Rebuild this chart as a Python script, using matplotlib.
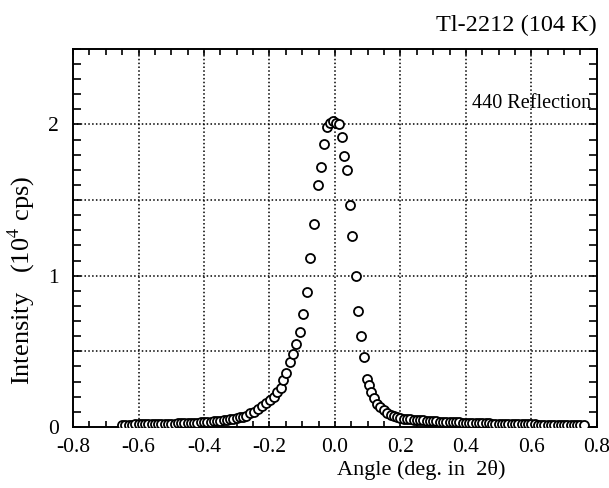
import matplotlib
matplotlib.use("Agg")
import matplotlib.pyplot as plt
from matplotlib.ticker import MultipleLocator, FixedLocator

plt.rcParams['font.family'] = ['Liberation Serif', 'DejaVu Serif']
plt.rcParams['mathtext.fontset'] = 'stix'

# ---- data ----
left_tail_angle = [-0.65, -0.64, -0.63, -0.62, -0.61, -0.60, -0.59, -0.58, -0.57, -0.56,
                   -0.55, -0.54, -0.53, -0.52, -0.51, -0.50, -0.49, -0.48, -0.47, -0.46,
                   -0.45, -0.44, -0.43, -0.42, -0.41, -0.40, -0.39, -0.38, -0.37, -0.36,
                   -0.35, -0.34, -0.33, -0.32, -0.31, -0.30, -0.29, -0.28]
left_tail_int = [0.015, 0.015, 0.016, 0.016, 0.017, 0.017, 0.018, 0.018, 0.019, 0.019,
                 0.020, 0.020, 0.021, 0.021, 0.022, 0.022, 0.023, 0.024, 0.024, 0.025,
                 0.026, 0.027, 0.028, 0.029, 0.030, 0.031, 0.033, 0.035, 0.037, 0.039,
                 0.041, 0.044, 0.047, 0.050, 0.054, 0.058, 0.063, 0.068]

peak_angle = [-0.271, -0.259, -0.247, -0.235, -0.223, -0.210, -0.198, -0.186, -0.177, -0.165,
              -0.159, -0.149, -0.137, -0.128, -0.119, -0.107, -0.098, -0.085, -0.076, -0.064,
              -0.052, -0.043, -0.034, -0.024, -0.015, -0.006, 0.003, 0.012, 0.021, 0.027,
              0.037, 0.046, 0.052, 0.064, 0.070, 0.079, 0.088, 0.098, 0.104, 0.110,
              0.119, 0.128, 0.137]
peak_int = [0.07, 0.09, 0.10, 0.12, 0.14, 0.16, 0.18, 0.20, 0.23, 0.26,
            0.31, 0.36, 0.43, 0.48, 0.55, 0.63, 0.75, 0.89, 1.12, 1.34,
            1.60, 1.72, 1.87, 1.98, 2.01, 2.02, 2.01, 2.00, 1.92, 1.79,
            1.70, 1.47, 1.26, 1.00, 0.77, 0.60, 0.46, 0.32, 0.28, 0.23,
            0.19, 0.15, 0.13]

right_tail_angle = [0.149, 0.16, 0.17, 0.18, 0.19, 0.20, 0.21, 0.22, 0.23, 0.24,
                    0.25, 0.26, 0.27, 0.28, 0.29, 0.30, 0.31, 0.32, 0.33, 0.34,
                    0.35, 0.36, 0.37, 0.38, 0.39, 0.40, 0.41, 0.42, 0.43, 0.44,
                    0.45, 0.46, 0.47, 0.48, 0.49, 0.50, 0.51, 0.52, 0.53, 0.54,
                    0.55, 0.56, 0.57, 0.58, 0.59, 0.60, 0.61, 0.62, 0.63, 0.64,
                    0.65, 0.66, 0.67, 0.68, 0.69, 0.70, 0.71, 0.72, 0.73, 0.74,
                    0.75, 0.76]
right_tail_int = [0.110, 0.090, 0.080, 0.070, 0.065, 0.060, 0.056, 0.053, 0.050, 0.048,
                  0.046, 0.044, 0.043, 0.041, 0.040, 0.038, 0.037, 0.036, 0.035, 0.034,
                  0.033, 0.032, 0.031, 0.030, 0.029, 0.028, 0.028, 0.027, 0.026, 0.026,
                  0.025, 0.024, 0.024, 0.023, 0.023, 0.022, 0.022, 0.021, 0.021, 0.020,
                  0.020, 0.019, 0.019, 0.018, 0.018, 0.017, 0.017, 0.016, 0.016, 0.015,
                  0.015, 0.014, 0.014, 0.013, 0.013, 0.012, 0.012, 0.012, 0.011, 0.011,
                  0.010, 0.010]

x_ticks = [-0.8, -0.6, -0.4, -0.2, 0.0, 0.2, 0.4, 0.6, 0.8]
x_tick_labels = ["-0.8", "-0.6", "-0.4", "-0.2", "0.0", "0.2", "0.4", "0.6", "0.8"]
y_ticks = [0, 1, 2]
y_tick_labels = ["0", "1", "2"]
y_grid = [0.5, 1.0, 1.5, 2.0]

angle = left_tail_angle + peak_angle + right_tail_angle
intensity = left_tail_int + peak_int + right_tail_int

fig = plt.figure(figsize=(6.09, 4.88), dpi=100)
ax = fig.add_axes([0.120, 0.125, 0.860, 0.775])

ax.plot(angle, intensity, linestyle='none', marker='o', markersize=6.5,
        markerfacecolor='white', markeredgecolor='black', markeredgewidth=1.3, zorder=3)

ax.set_xlim(-0.8, 0.8)
ax.set_ylim(0, 2.5)

ax.xaxis.set_major_locator(FixedLocator(x_ticks))
ax.set_xticklabels(x_tick_labels)
ax.xaxis.set_minor_locator(MultipleLocator(0.05))
ax.yaxis.set_major_locator(FixedLocator(y_ticks))
ax.set_yticklabels(y_tick_labels)
ax.yaxis.set_minor_locator(MultipleLocator(0.1))

ax.tick_params(which='both', direction='in', top=True, right=True, width=1.2, labelsize=15.5)
ax.tick_params(axis='x', which='both', length=4.5, pad=8)
ax.tick_params(axis='y', which='both', length=6, pad=10)

for gx in x_ticks[1:-1]:
    ax.axvline(gx, color='black', linestyle=(0, (1, 1.5)), linewidth=1.1, zorder=1)
for gy in y_grid:
    ax.axhline(gy, color='black', linestyle=(0, (1, 1.5)), linewidth=1.1, zorder=1)

for s in ax.spines.values():
    s.set_linewidth(1.4)

ax.text(0.99, 0.855, "440 Reflection", transform=ax.transAxes, ha='right', va='center', fontsize=14.5)
fig.text(0.980, 0.948, "Tl-2212 (104 K)", ha='right', va='center', fontsize=17.5)
fig.text(0.692, 0.036, "Angle (deg. in  2θ)", ha='center', va='center', fontsize=16)
fig.text(0.036, 0.426, "Intensity   (10$^{4}$ cps)", ha='center', va='center', rotation=90, fontsize=19)

fig.savefig("out.png", dpi=100)
